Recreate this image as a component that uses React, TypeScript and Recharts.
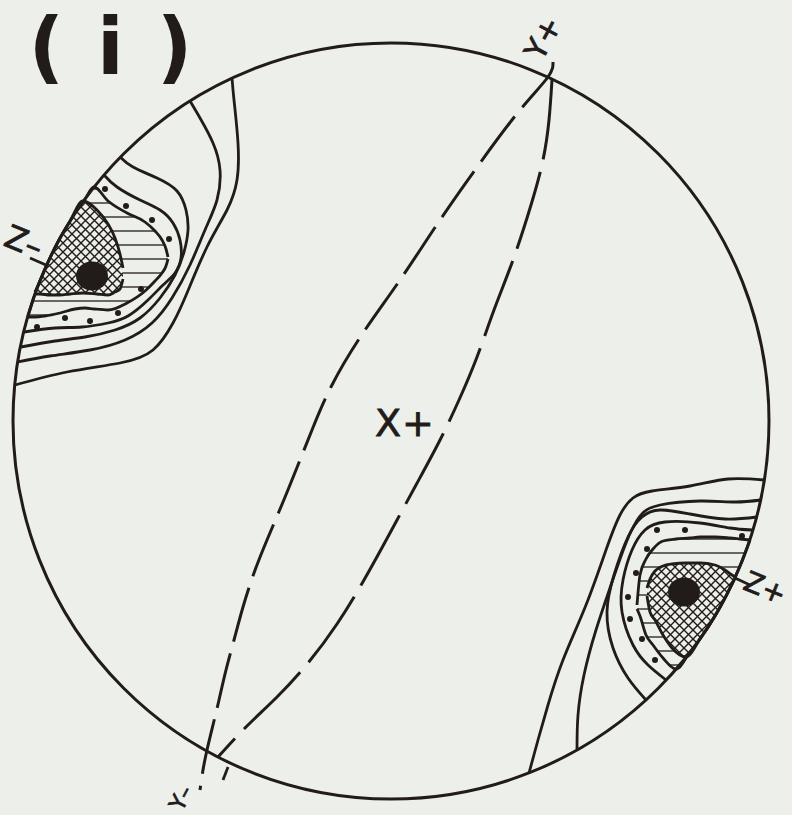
import React from "react";
import { ComposedChart, XAxis, YAxis, Scatter, Area, ReferenceDot } from "recharts";

const INK = "#211c1a";
const PAPER = "#edefea";
const W = 792;
const H = 815;

// Sheet units: x to the right, y downward.
const primitiveCentre = { x: 391, y: 421 };
const primitiveRadius = 378;

// Z- maximum (upper left), contour lines outer -> inner
const zMinusC1 = [[232, 78], [234, 100], [238, 143], [237, 180], [227, 210], [207, 247], [187, 293], [173, 323], [153, 350], [120, 363], [67, 372], [15, 385]];
const zMinusC2 = [[190, 101], [200, 118], [213, 143], [220, 170], [217, 200], [205, 230], [190, 265], [172, 298], [152, 323], [125, 340], [90, 350], [50, 356], [18, 362]];
const zMinusC3 = [[120, 157], [133, 167], [157, 178], [177, 191], [186, 210], [188, 230], [184, 252], [175, 275], [160, 298], [140, 318], [115, 330], [85, 337], [55, 341], [21, 347]];
const zMinusC4 = [[104, 175], [117, 187], [140, 200], [160, 210], [173, 223], [180, 240], [181, 258], [175, 273], [163, 285], [148, 300], [128, 316], [108, 323], [82, 327], [55, 328], [24, 332]];
// ruled band and cross-hatched core as [x, top, bottom]
const zMinusRuled = [[28, 316, 317], [35, 294, 317], [45, 269, 316], [60, 238, 313], [75, 214, 309], [85, 199, 308], [94, 187, 309], [108, 201, 310], [127, 213, 303], [145, 222, 291], [155, 231, 281], [162, 240, 273], [166, 249, 266], [168, 257, 259]];
const zMinusCore = [[35, 292, 294], [40, 281, 294], [50, 258, 295], [60, 238, 295], [70, 221, 294], [83, 201, 293], [97, 210, 294], [108, 224, 295], [115, 238, 292], [120, 254, 289], [123, 268, 279]];
const zMinusDots = [[105, 189], [126, 206], [152, 220], [169, 239], [37, 327], [65, 318], [90, 321], [118, 313], [141, 289]];
const zMinusPeak = [[92, 276]];

// Z+ maximum (lower right)
const zPlusC1 = [[529, 773], [538, 740], [548, 705], [563, 660], [586, 605], [606, 550], [620, 515], [633, 498], [652, 491], [690, 486], [728, 479], [764, 480]];
const zPlusC2 = [[577, 750], [578, 715], [584, 675], [596, 630], [611, 585], [626, 543], [640, 516], [660, 505], [700, 501], [735, 502], [761, 500]];
const zPlusC3 = [[646, 700], [628, 678], [613, 648], [607, 612], [614, 575], [628, 537], [642, 517], [660, 510], [690, 514], [725, 519], [757, 517]];
const zPlusC4 = [[666, 680], [648, 665], [633, 645], [622, 612], [623, 580], [632, 550], [645, 530], [665, 522], [700, 523], [730, 528], [752, 530]];
const zPlusRuled = [[637, 605, 609], [640, 575, 616], [646, 559, 635], [653, 549, 645], [663, 541, 658], [676, 539, 669], [690, 538, 652], [700, 537, 639], [715, 537, 616], [730, 538, 588], [740, 539, 566], [750, 540, 540]];
const zPlusCore = [[647, 588, 596], [650, 579, 612], [655, 571, 620], [663, 566, 635], [672, 564, 648], [686, 563, 657], [700, 563, 639], [715, 565, 616], [725, 570, 598], [732, 575, 584], [735, 577, 578]];
const zPlusDots = [[657, 530], [685, 530], [742, 536], [647, 549], [636, 573], [628, 597], [630, 619], [642, 639], [655, 660]];
const zPlusPeak = [[684, 592]];

// dashed great circles through Y+ and Y-
const greatCircleA = [[553, 62], [548, 77], [520, 110], [480, 163], [440, 220], [400, 280], [363, 333], [332, 385], [312, 430], [298, 465], [283, 502], [267, 540], [254, 573], [243, 607], [234, 640], [226, 670], [219, 700], [213, 725], [207, 750], [203, 770], [200, 790]];
const greatCircleB = [[552, 80], [549, 120], [543, 160], [531, 205], [513, 260], [494, 310], [477, 357], [459, 400], [439, 442], [416, 485], [390, 533], [364, 580], [337, 624], [308, 663], [277, 697], [246, 727], [218, 757]];

const leaders = [
  [[228, 767], [223, 780]],
  [[735, 578], [750, 585]],
  [[30, 258], [46, 265]],
];

const labels = [
  { x: 127, y: 74, text: "(i)" },
  { x: 543, y: 38, text: "Y+" },
  { x: 405, y: 423, text: "X+" },
  { x: 24, y: 242, text: "Z–" },
  { x: 765, y: 588, text: "Z+" },
  { x: 181, y: 798, text: "Y–" },
];

const labelStyle: Record<string, { size: number; angle: number; weight: number; spacing: number; base: string }> = {
  "(i)": { size: 78, angle: 0, weight: 700, spacing: 33, base: "alphabetic" },
  "Y+": { size: 30, angle: -62, weight: 400, spacing: 0, base: "central" },
  "X+": { size: 38, angle: 0, weight: 400, spacing: 1, base: "central" },
  "Z–": { size: 32, angle: 22, weight: 400, spacing: 0, base: "central" },
  "Z+": { size: 28, angle: 22, weight: 400, spacing: 0, base: "central" },
  "Y–": { size: 22, angle: -62, weight: 400, spacing: 0, base: "central" },
};

const pts = (arr: number[][]) => arr.map(([x, y]) => ({ x, y }));
const band = (arr: number[][]) => arr.map(([x, lo, hi]) => ({ x, y: [lo, hi] }));

const hidden = () => <g />;
const dot = (p: any) => <circle cx={p.cx} cy={p.cy} r={3} fill={INK} />;
const peak = (p: any) => <ellipse cx={p.cx} cy={p.cy} rx={16} ry={14.5} fill={INK} />;
const drawLabel = (p: any) => {
  const s = labelStyle[p.payload.text];
  return (
    <text
      x={p.cx}
      y={p.cy}
      textAnchor="middle"
      dominantBaseline={s.base}
      fontFamily="DejaVu Sans, sans-serif"
      fontSize={s.size}
      fontWeight={s.weight}
      letterSpacing={s.spacing}
      fill={INK}
      stroke={s.weight < 700 ? INK : "none"}
      strokeWidth={s.weight < 700 ? 0.8 : 0}
      transform={`rotate(${s.angle} ${p.cx} ${p.cy})`}
    >
      {p.payload.text}
    </text>
  );
};

const contours = [zMinusC1, zMinusC2, zMinusC3, zMinusC4, zPlusC1, zPlusC2, zPlusC3, zPlusC4];
const LINE = 2.8;

export default function App() {
  return (
    <div style={{ position: "absolute", left: 0, top: 0, width: W, height: H, background: PAPER, overflow: "hidden" }}>
      <svg width={0} height={0} style={{ position: "absolute" }}>
        <defs>
          <pattern id="ruled" patternUnits="userSpaceOnUse" width={10} height={14}>
            <rect width={10} height={14} fill={PAPER} />
            <line x1={0} y1={7} x2={10} y2={7} stroke={INK} strokeWidth={1.3} />
          </pattern>
          <pattern id="xhatch" patternUnits="userSpaceOnUse" width={9} height={9}>
            <rect width={9} height={9} fill={PAPER} />
            <path d="M0,0 L9,9 M9,0 L0,9" stroke={INK} strokeWidth={1.4} />
          </pattern>
        </defs>
      </svg>
      <ComposedChart width={W} height={H} margin={{ top: 0, right: 0, bottom: 0, left: 0 }}>
        <XAxis type="number" dataKey="x" domain={[0, W]} hide allowDataOverflow />
        <YAxis type="number" dataKey="y" domain={[0, H]} reversed hide allowDataOverflow />

        <Area data={band(zMinusRuled)} dataKey="y" type="monotone" fill="url(#ruled)" fillOpacity={1} stroke={INK} strokeWidth={LINE} dot={false} activeDot={false} isAnimationActive={false} />
        <Area data={band(zMinusCore)} dataKey="y" type="monotone" fill="url(#xhatch)" fillOpacity={1} stroke={INK} strokeWidth={LINE} dot={false} activeDot={false} isAnimationActive={false} />
        <Area data={band(zPlusRuled)} dataKey="y" type="monotone" fill="url(#ruled)" fillOpacity={1} stroke={INK} strokeWidth={LINE} dot={false} activeDot={false} isAnimationActive={false} />
        <Area data={band(zPlusCore)} dataKey="y" type="monotone" fill="url(#xhatch)" fillOpacity={1} stroke={INK} strokeWidth={LINE} dot={false} activeDot={false} isAnimationActive={false} />

        {contours.map((c, i) => (
          <Scatter key={`c${i}`} data={pts(c)} line={{ stroke: INK, strokeWidth: LINE }} lineJointType="natural" shape={hidden} isAnimationActive={false} />
        ))}

        <Scatter data={pts(greatCircleA)} line={{ stroke: INK, strokeWidth: 3, strokeDasharray: "56 12" }} lineJointType="natural" shape={hidden} isAnimationActive={false} />
        <Scatter data={pts(greatCircleB)} line={{ stroke: INK, strokeWidth: 3, strokeDasharray: "80 13" }} lineJointType="natural" shape={hidden} isAnimationActive={false} />

        {leaders.map((l, i) => (
          <Scatter key={`l${i}`} data={pts(l)} line={{ stroke: INK, strokeWidth: LINE }} shape={hidden} isAnimationActive={false} />
        ))}

        <Scatter data={pts(zMinusDots)} shape={dot} isAnimationActive={false} />
        <Scatter data={pts(zPlusDots)} shape={dot} isAnimationActive={false} />
        <Scatter data={pts(zMinusPeak)} shape={peak} isAnimationActive={false} />
        <Scatter data={pts(zPlusPeak)} shape={peak} isAnimationActive={false} />

        <ReferenceDot x={primitiveCentre.x} y={primitiveCentre.y} r={primitiveRadius} fill="none" stroke={INK} strokeWidth={3} />

        <Scatter data={labels} shape={drawLabel} isAnimationActive={false} />
      </ComposedChart>
    </div>
  );
}
